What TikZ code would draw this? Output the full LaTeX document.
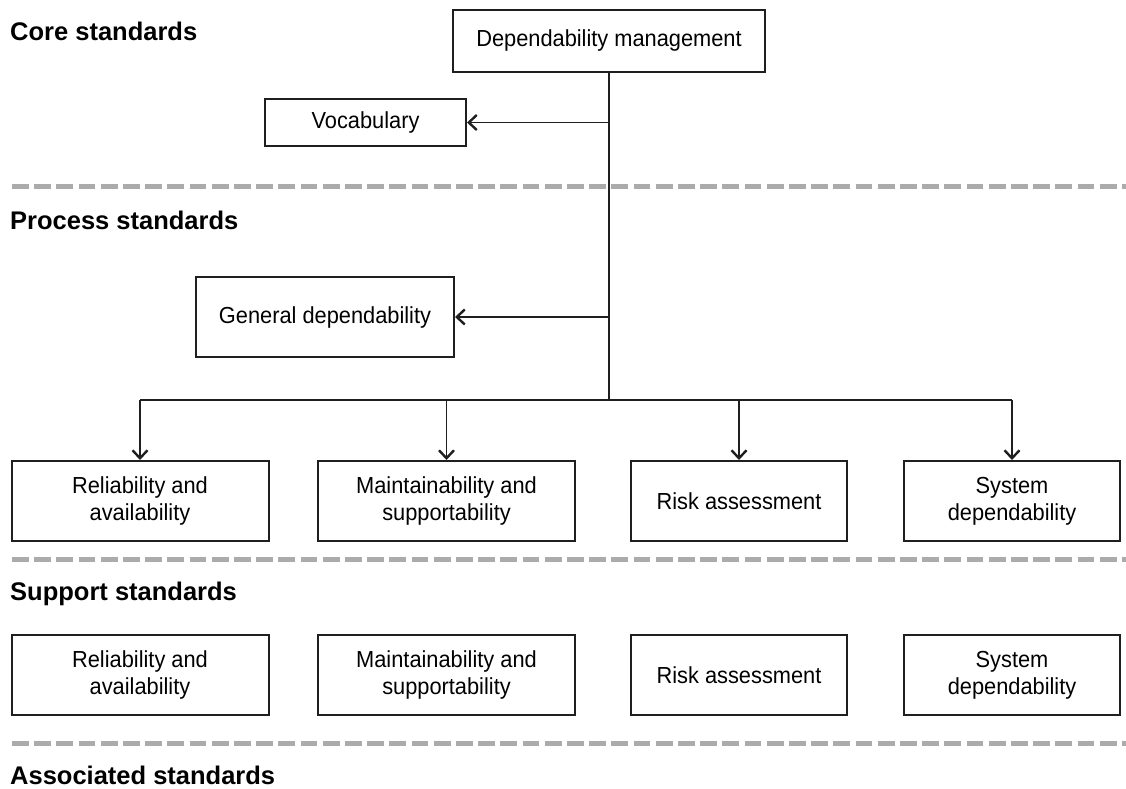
\documentclass[tikz,border=0pt]{standalone}
\usepackage{fontspec}
\setmainfont{Liberation Sans}
\newfontfamily\boxfont{Liberation Sans}[FakeStretch=0.94]
\usetikzlibrary{arrows.meta}
\begin{document}
\begin{tikzpicture}[x=1pt,y=-1pt,
  box/.style={draw=black!88,line width=2pt,fill=white,align=center,
    inner sep=0pt,minimum height=80pt,
    font=\boxfont\fontsize{23.2}{27}\selectfont},
  heading/.style={anchor=west,inner sep=0pt,font=\fontsize{25.5}{30}\selectfont\bfseries},
  link/.style={draw=black!88,line width=1.6pt},
  arr/.style={link,-{Straight Barb[length=8pt,width=15pt,line width=2.4pt]}},
  divider/.style={draw=black!33,line width=5pt,dash pattern=on 16.7pt off 5.5pt}]
\useasboundingbox (0,0) rectangle (1126,789);

% section separators
\draw[divider] (12,186) -- (1126,186);
\draw[divider] (12,559) -- (1126,559);
\draw[divider] (12,743) -- (1126,743);

% section headings
\node[heading] (hcore) at (10,31) {Core standards};
\node[heading] (hproc) at (10,220) {Process standards};
\node[heading] (hsupp) at (10,594) {Support standards};
\node[heading] (hassoc) at (10,775) {Associated standards};

% core and process boxes
\node[box,minimum width=312pt,minimum height=62pt] (dm) at (609,41) {Dependability management};
\node[box,minimum width=201pt,minimum height=47pt] (vocab) at (365.5,122.5) {Vocabulary};
\node[box,minimum width=258pt] (gd) at (325,317) {General dependability};

\node[box,minimum width=257pt] (r1) at (140,501) {Reliability and\\availability};
\node[box,minimum width=257pt] (r2) at (446.5,501) {Maintainability and\\supportability};
\node[box,minimum width=216pt] (r3) at (739,501) {Risk assessment};
\node[box,minimum width=216pt] (r4) at (1012,501) {System\\dependability};

% support boxes
\node[box,minimum width=257pt] (s1) at (140,675) {Reliability and\\availability};
\node[box,minimum width=257pt] (s2) at (446.5,675) {Maintainability and\\supportability};
\node[box,minimum width=216pt] (s3) at (739,675) {Risk assessment};
\node[box,minimum width=216pt] (s4) at (1012,675) {System\\dependability};

% connectors
\coordinate (j) at (dm.south |- 0,400);
\draw[link] (dm.south) -- (j);
\draw[arr] (dm.south |- vocab.east) -- (vocab.east);
\draw[arr] (dm.south |- gd.east) -- (gd.east);
\draw[link] (r1.north |- j) -- (r4.north |- j);
\draw[arr] (r1.north |- j) -- (r1.north);
\draw[arr] (r2.north |- j) -- (r2.north);
\draw[arr] (r3.north |- j) -- (r3.north);
\draw[arr] (r4.north |- j) -- (r4.north);
\end{tikzpicture}
\end{document}
